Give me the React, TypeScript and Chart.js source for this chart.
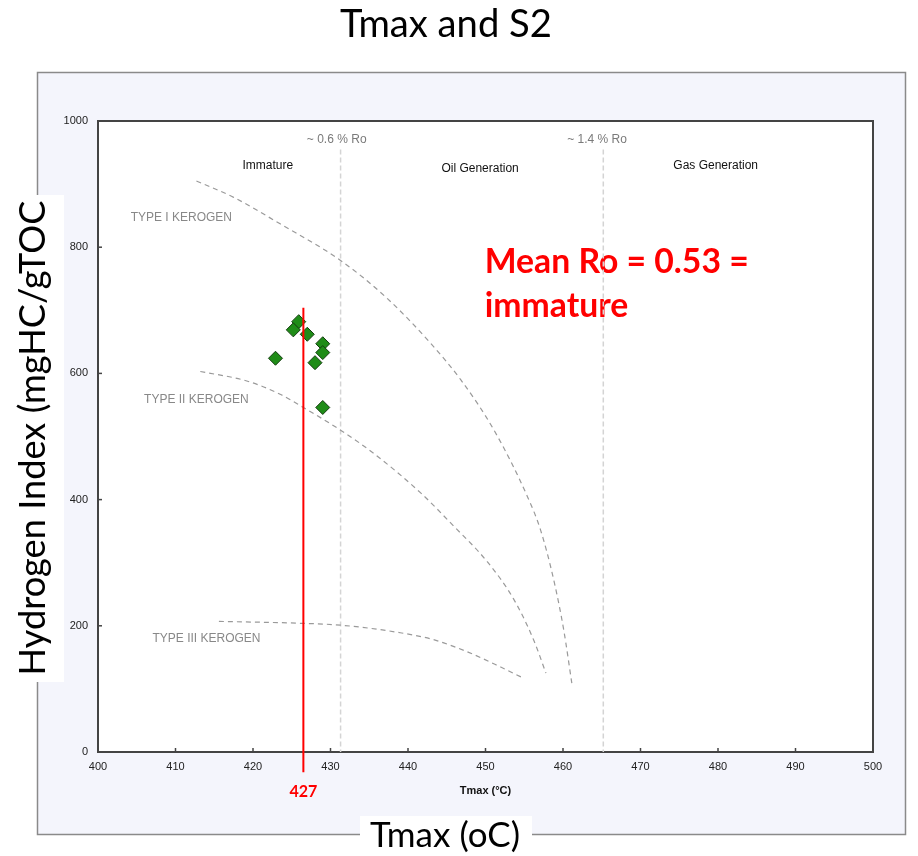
import React, { useEffect, useRef } from 'react';
import { Chart, registerables } from 'chart.js';

Chart.register(...registerables);

// ---------- data ----------
const titleText = 'Tmax and S2';
const yAxisLabel = 'Hydrogen Index (mgHC/gTOC';
const xAxisLabel = 'Tmax (oC)';
const xScaleTitle = 'Tmax (°C)';

const sampleTmax = [425.9, 425.2, 427.0, 429.0, 429.0, 422.9, 428.0, 429.0];
const sampleHI = [682, 669, 662, 647, 633, 624, 617, 546];

const typeITmax = [412.7, 417.5, 423.5, 431.3, 437.3, 442.9, 446.8, 451.1, 455.4, 457.1, 458.8, 460.1, 461.2];
const typeIHI = [905, 879, 837, 779, 719, 648, 590, 510, 405, 352, 273, 193, 104];

const typeIITmax = [413.2, 419.2, 423.5, 426.5, 431.3, 435.6, 441.6, 445.9, 450.2, 453.6, 456.2, 457.8];
const typeIIHI = [603, 588, 567, 546, 510, 473, 411, 358, 302, 243, 178, 125];

const typeIIITmax = [415.6, 426.1, 431.3, 439.0, 443.3, 447.6, 451.9, 454.9];
const typeIIIHI = [207, 204, 201, 189, 178, 159, 135, 117];

const roBoundaryTmax = [431.3, 465.2];
const roBoundaryTop = 955;
const roLabels = ['~ 0.6 % Ro', '~ 1.4 % Ro'];
const zoneLabels = ['Immature', 'Oil Generation', 'Gas Generation'];
const kerogenLabels = ['TYPE I KEROGEN', 'TYPE II KEROGEN', 'TYPE III KEROGEN'];

const meanTmax = 426.5;
const meanLineTop = 704;
const meanLineBottom = -32;
const meanTmaxLabel = '427';
const annotationLines = ['Mean Ro = 0.53 =', 'immature'];

const xMin = 400, xMax = 500, xStep = 10;
const yMin = 0, yMax = 1000, yStep = 200;

const SMALL_FONT = '"Liberation Sans", Arial, sans-serif';
const BIG_FONT = 'Lato, "Open Sans", sans-serif';

function fitSize(ctx: CanvasRenderingContext2D, text: string, weight: string, family: string, width: number) {
  ctx.font = `${weight} 100px ${family}`;
  const w = ctx.measureText(text).width;
  return (100 * width) / w;
}

const decorPlugin = {
  id: 'decor',
  beforeDraw(chart: any) {
    const ctx: CanvasRenderingContext2D = chart.ctx;
    const a = chart.chartArea;
    ctx.save();
    ctx.fillStyle = '#ffffff';
    ctx.fillRect(0, 0, chart.width, chart.height);
    // outer frame
    ctx.fillStyle = '#f4f5fc';
    ctx.fillRect(37, 72, 869, 763);
    ctx.strokeStyle = '#8a8a8a';
    ctx.lineWidth = 1.5;
    ctx.strokeRect(37.5, 72.5, 868, 762);
    // plot area
    ctx.fillStyle = '#ffffff';
    ctx.fillRect(a.left, a.top, a.right - a.left, a.bottom - a.top);
    // white boxes behind outer labels
    ctx.fillRect(0, 195, 64, 487);
    ctx.fillRect(360, 816, 172, 40);

    ctx.fillStyle = '#000000';
    ctx.textAlign = 'center';
    ctx.textBaseline = 'middle';
    let s = fitSize(ctx, titleText, 'normal', BIG_FONT, 212);
    ctx.font = `normal ${s}px ${BIG_FONT}`;
    ctx.fillText(titleText, 446, 25);

    s = fitSize(ctx, xAxisLabel, 'normal', BIG_FONT, 150);
    ctx.font = `normal ${s}px ${BIG_FONT}`;
    ctx.fillText(xAxisLabel, 445, 836);

    s = fitSize(ctx, yAxisLabel, 'normal', BIG_FONT, 475);
    ctx.font = `normal ${s}px ${BIG_FONT}`;
    ctx.translate(33, 438);
    ctx.rotate(-Math.PI / 2);
    ctx.fillText(yAxisLabel, 0, 0);
    ctx.restore();
  },
  beforeDatasetsDraw(chart: any) {
    const ctx: CanvasRenderingContext2D = chart.ctx;
    const a = chart.chartArea;
    const xs = chart.scales.x;
    const ys = chart.scales.y;
    ctx.save();
    // inward tick marks
    ctx.strokeStyle = '#444';
    ctx.lineWidth = 1.5;
    xs.ticks.forEach((t: any) => {
      const px = xs.getPixelForValue(t.value);
      ctx.beginPath();
      ctx.moveTo(px, a.bottom);
      ctx.lineTo(px, a.bottom - 4);
      ctx.stroke();
    });
    ys.ticks.forEach((t: any) => {
      const py = ys.getPixelForValue(t.value);
      ctx.beginPath();
      ctx.moveTo(a.left, py);
      ctx.lineTo(a.left + 4, py);
      ctx.stroke();
    });
    // plot border
    ctx.strokeStyle = '#444';
    ctx.lineWidth = 2;
    ctx.strokeRect(a.left, a.top, a.right - a.left, a.bottom - a.top);

    const P = (x: number, y: number) => [xs.getPixelForValue(x), ys.getPixelForValue(y)];
    ctx.textAlign = 'center';
    ctx.textBaseline = 'middle';
    ctx.font = `12px ${SMALL_FONT}`;
    // Ro labels
    ctx.fillStyle = '#7a7a7a';
    let p = P(430.8, 970); ctx.fillText(roLabels[0], p[0], p[1]);
    p = P(464.4, 970); ctx.fillText(roLabels[1], p[0], p[1]);
    // zone labels
    ctx.fillStyle = '#111';
    p = P(421.9, 929); ctx.fillText(zoneLabels[0], p[0], p[1]);
    p = P(449.3, 924); ctx.fillText(zoneLabels[1], p[0], p[1]);
    p = P(479.7, 929); ctx.fillText(zoneLabels[2], p[0], p[1]);
    // kerogen labels
    ctx.fillStyle = '#888';
    p = P(410.75, 846); ctx.fillText(kerogenLabels[0], p[0], p[1]);
    p = P(412.7, 558); ctx.fillText(kerogenLabels[1], p[0], p[1]);
    p = P(414.0, 179); ctx.fillText(kerogenLabels[2], p[0], p[1]);

    // red annotation
    ctx.fillStyle = '#ff0000';
    ctx.textAlign = 'left';
    const s = fitSize(ctx, annotationLines[0], 'bold', BIG_FONT, 264);
    ctx.font = `bold ${s}px ${BIG_FONT}`;
    p = P(449.9, 776); ctx.fillText(annotationLines[0], p[0], p[1]);
    p = P(449.9, 707); ctx.fillText(annotationLines[1], p[0], p[1]);

    // mean Tmax label
    ctx.textAlign = 'center';
    const s2 = fitSize(ctx, meanTmaxLabel, 'bold', BIG_FONT, 28);
    ctx.font = `bold ${s2}px ${BIG_FONT}`;
    ctx.fillText(meanTmaxLabel, xs.getPixelForValue(meanTmax), 792);
    ctx.restore();
  },
};

const toPts = (xs: number[], ys: number[]) => xs.map((x, i) => ({ x, y: ys[i] }));

export default function App() {
  const ref = useRef<HTMLCanvasElement | null>(null);
  useEffect(() => {
    if (!ref.current) return;
    const curve = (label: string, xs: number[], ys: number[]) => ({
      type: 'line' as const,
      label,
      data: toPts(xs, ys),
      borderColor: '#9a9a9a',
      borderWidth: 1.2,
      borderDash: [5, 4],
      pointRadius: 0,
      cubicInterpolationMode: 'monotone',
      fill: false,
    });
    const vline = (label: string, x: number) => ({
      type: 'line' as const,
      label,
      data: [{ x, y: roBoundaryTop }, { x, y: yMin }],
      borderColor: '#d4d4d4',
      borderWidth: 1.5,
      borderDash: [5, 3],
      pointRadius: 0,
      fill: false,
    });
    const chart = new Chart(ref.current, {
      type: 'scatter',
      data: {
        datasets: [
          {
            type: 'line',
            label: 'Mean Tmax',
            data: [{ x: meanTmax, y: meanLineTop }, { x: meanTmax, y: meanLineBottom }],
            borderColor: '#ff0000',
            borderWidth: 2,
            pointRadius: 0,
            clip: false,
            fill: false,
          } as any,
          {
            type: 'scatter',
            label: 'Samples',
            data: toPts(sampleTmax, sampleHI),
            pointStyle: 'rectRot',
            pointRadius: 7,
            backgroundColor: '#1f8c17',
            borderColor: '#143d10',
            borderWidth: 1,
          } as any,
          curve('Type I', typeITmax, typeIHI) as any,
          curve('Type II', typeIITmax, typeIIHI) as any,
          curve('Type III', typeIIITmax, typeIIIHI) as any,
          vline('0.6 Ro', roBoundaryTmax[0]),
          vline('1.4 Ro', roBoundaryTmax[1]),
        ],
      },
      options: {
        responsive: false,
        animation: false,
        devicePixelRatio: 1,
        layout: { padding: { left: 58, top: 121, right: 45, bottom: 54 } },
        plugins: { legend: { display: false }, tooltip: { enabled: false } },
        scales: {
          x: {
            type: 'linear',
            min: xMin,
            max: xMax,
            grid: { display: false, drawTicks: false },
            border: { display: false },
            ticks: {
              stepSize: xStep,
              padding: 8,
              color: '#222',
              font: { family: SMALL_FONT, size: 11 },
              callback: (v: any) => String(v),
            },
            title: {
              display: true,
              text: xScaleTitle,
              color: '#111',
              font: { family: SMALL_FONT, size: 11, weight: 'bold' },
              padding: { top: 0, bottom: 4 },
            },
            afterFit: (s: any) => { s.height = 50; },
          },
          y: {
            type: 'linear',
            min: yMin,
            max: yMax,
            grid: { display: false, drawTicks: false },
            border: { display: false },
            ticks: {
              stepSize: yStep,
              padding: 10,
              color: '#222',
              font: { family: SMALL_FONT, size: 11 },
              callback: (v: any) => String(v),
            },
            afterFit: (s: any) => { s.width = 40; },
          },
        },
      } as any,
      plugins: [decorPlugin],
    });
    return () => chart.destroy();
  }, []);
  return (
    <div style={{ position: 'absolute', left: 0, top: 0, width: 918, height: 856 }}>
      <canvas ref={ref} width={918} height={856} style={{ display: 'block' }} />
    </div>
  );
}
